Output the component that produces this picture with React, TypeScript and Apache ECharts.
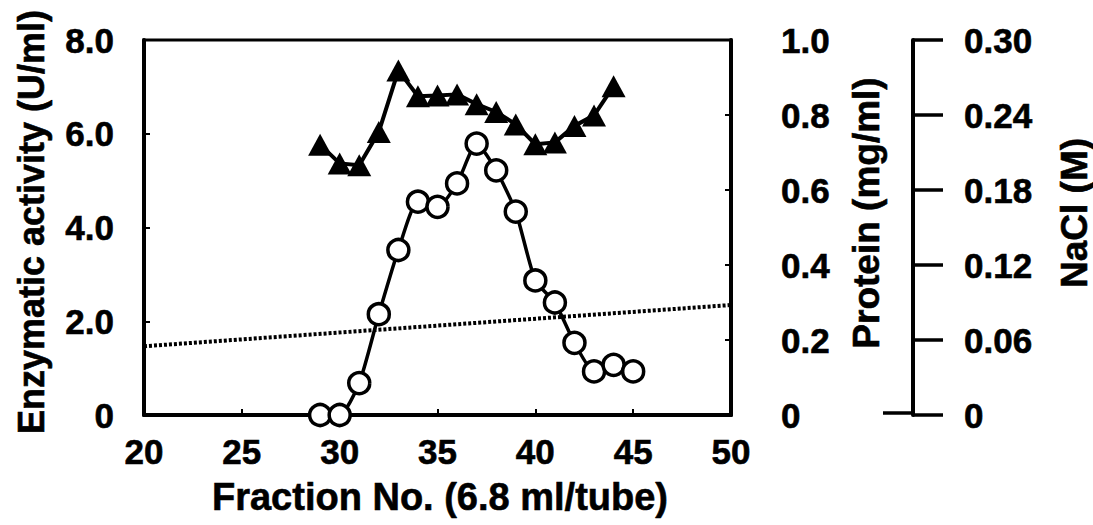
import React, { useEffect, useRef } from "react";
import * as echarts from "echarts";

// Fraction numbers
const activityFractions = [29, 30, 31, 32, 33, 34, 35, 36, 37, 38, 39, 40, 41, 42, 43, 44, 45];
// Enzymatic activity (U/ml) – open circles
const activity = [0, 0, 0.68, 2.15, 3.52, 4.55, 4.44, 4.94, 5.79, 5.22, 4.34, 2.87, 2.4, 1.54, 0.93, 1.07, 0.93];
const proteinFractions = [29, 30, 31, 32, 33, 34, 35, 36, 37, 38, 39, 40, 41, 42, 43, 44];
// Protein (mg/ml) – filled triangles
const protein = [0.721, 0.671, 0.666, 0.755, 0.919, 0.85, 0.852, 0.855, 0.829, 0.808, 0.775, 0.722, 0.727, 0.771, 0.799, 0.877];
// NaCl gradient (M) – dotted line
const naclFractions = [20, 50];
const nacl = [0.055, 0.088];

// Tick labels
const xTicks = ["20", "25", "30", "35", "40", "45", "50"];
const activityTicks = ["0", "2.0", "4.0", "6.0", "8.0"];
const proteinTicks = ["0", "0.2", "0.4", "0.6", "0.8", "1.0"];
const naclTicks = ["0", "0.06", "0.12", "0.18", "0.24", "0.30"];

const FONT = "Liberation Sans";
const labelStyle = {
  color: "#000",
  fontFamily: FONT,
  fontWeight: "bold" as const,
  fontSize: 35,
  textBorderColor: "#000",
  textBorderWidth: 0.6,
};
const titleStyle = (text: string, size: number) => ({
  text,
  fill: "#000",
  font: `bold ${size}px '${FONT}'`,
  align: "center",
  verticalAlign: "middle",
  stroke: "#000",
  lineWidth: 0.6,
});

export default function App() {
  const ref = useRef<HTMLDivElement>(null);
  useEffect(() => {
    if (!ref.current) return;
    const chart = echarts.init(ref.current, null, { renderer: "svg" });
    const option: any = {
      animation: false,
      backgroundColor: "#fff",
      grid: {
        left: 144,
        width: 587,
        top: 40,
        height: 375,
        show: true,
        borderColor: "#000",
        borderWidth: 3,
        backgroundColor: "transparent",
      },
      xAxis: {
        type: "value",
        min: 20,
        max: 50,
        interval: 5,
        axisLine: { show: true, onZero: false, lineStyle: { color: "#000", width: 4 } },
        axisTick: { show: true, inside: true, length: 6, lineStyle: { color: "#000", width: 2 } },
        splitLine: { show: false },
        axisLabel: {
          ...labelStyle,
          margin: 19,
          formatter: (v: number) => xTicks[Math.round((v - 20) / 5)] ?? "",
        },
      },
      yAxis: [
        {
          type: "value",
          position: "left",
          min: 0,
          max: 8,
          interval: 2,
          axisLine: { show: true, lineStyle: { color: "#000", width: 4 } },
          axisTick: { show: true, inside: true, length: 6, lineStyle: { color: "#000", width: 2 } },
          splitLine: { show: false },
          axisLabel: {
            ...labelStyle,
            margin: 30,
            formatter: (v: number) => activityTicks[Math.round(v / 2)] ?? "",
          },
        },
        {
          type: "value",
          position: "right",
          min: 0,
          max: 1,
          interval: 0.2,
          axisLine: { show: true, lineStyle: { color: "#000", width: 4 } },
          axisTick: { show: true, inside: true, length: 6, lineStyle: { color: "#000", width: 2 } },
          splitLine: { show: false },
          axisLabel: {
            ...labelStyle,
            margin: 50,
            formatter: (v: number) => proteinTicks[Math.round(v / 0.2)] ?? "",
          },
        },
        {
          type: "value",
          position: "right",
          offset: 182,
          min: 0,
          max: 0.3,
          interval: 0.06,
          axisLine: { show: true, lineStyle: { color: "#000", width: 4 } },
          axisTick: { show: true, inside: false, length: 30, lineStyle: { color: "#000", width: 3.5 } },
          splitLine: { show: false },
          axisLabel: {
            ...labelStyle,
            margin: 51,
            formatter: (v: number) => naclTicks[Math.round(v / 0.06)] ?? "",
          },
        },
      ],
      series: [
        {
          name: "NaCl",
          type: "line",
          yAxisIndex: 2,
          data: naclFractions.map((x, i) => [x, nacl[i]]),
          symbol: "none",
          lineStyle: { color: "#000", width: 4, type: [3, 2], cap: "butt" },
          z: 2,
        },
        {
          name: "Protein",
          type: "line",
          yAxisIndex: 1,
          data: proteinFractions.map((x, i) => [x, protein[i]]),
          symbol: "triangle",
          symbolSize: [24, 22],
          itemStyle: { color: "#000" },
          lineStyle: { color: "#000", width: 4 },
          z: 3,
        },
        {
          name: "Activity",
          type: "line",
          yAxisIndex: 0,
          data: activityFractions.map((x, i) => [x, activity[i]]),
          symbol: "circle",
          symbolSize: 21,
          smooth: 0.2,
          itemStyle: { color: "#fff", borderColor: "#000", borderWidth: 3.5 },
          lineStyle: { color: "#000", width: 3.5 },
          z: 4,
        },
      ],
      graphic: [
        {
          type: "line",
          shape: { x1: 883, y1: 413, x2: 913, y2: 413 },
          style: { stroke: "#000", lineWidth: 3.5 },
        },
        {
          type: "text",
          x: 31,
          y: 222,
          rotation: Math.PI / 2,
          style: titleStyle("Enzymatic activity (U/ml)", 36),
        },
        {
          type: "text",
          x: 866,
          y: 213,
          rotation: Math.PI / 2,
          style: titleStyle("Protein (mg/ml)", 37),
        },
        {
          type: "text",
          x: 1074,
          y: 213,
          rotation: Math.PI / 2,
          style: titleStyle("NaCl (M)", 37),
        },
        {
          type: "text",
          x: 440,
          y: 497,
          style: titleStyle("Fraction No. (6.8 ml/tube)", 38),
        },
      ],
    };
    chart.setOption(option);
    return () => chart.dispose();
  }, []);
  return (
    <div
      ref={ref}
      style={{ position: "fixed", left: 0, top: 0, width: 1093, height: 525, background: "#fff" }}
    />
  );
}
